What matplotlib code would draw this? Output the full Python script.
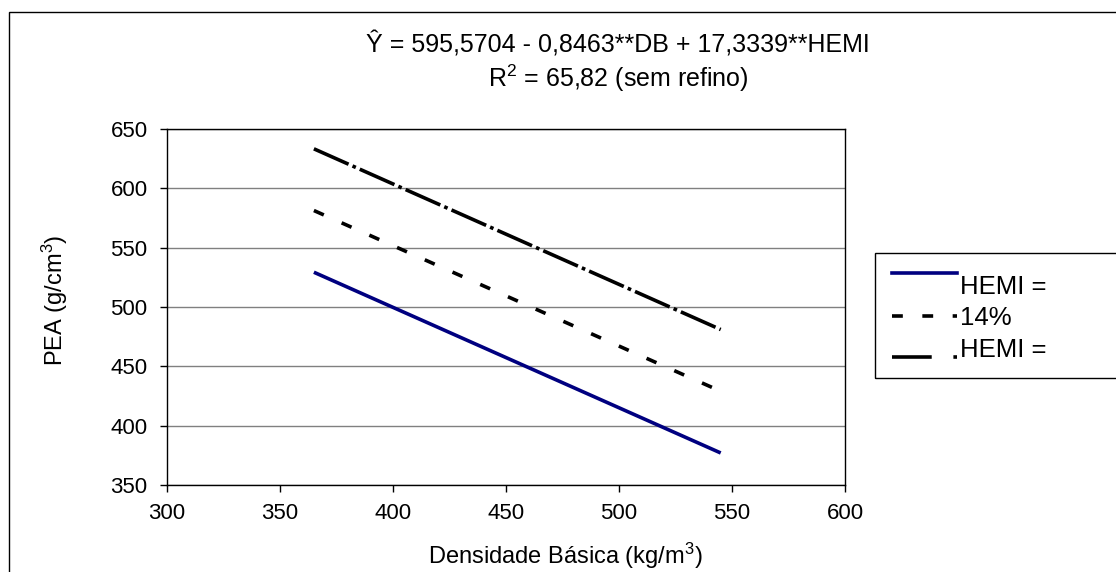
import matplotlib
matplotlib.use("Agg")
import matplotlib.pyplot as plt
from matplotlib.patches import Rectangle
from matplotlib.lines import Line2D

plt.rcParams['font.family'] = ['Liberation Sans', 'DejaVu Sans']
plt.rcParams['mathtext.fontset'] = 'custom'
plt.rcParams['mathtext.rm'] = 'Liberation Sans'
plt.rcParams['mathtext.it'] = 'Liberation Sans'

# data
db = [365, 545]
pea_hemi14 = [529.3, 377.0]
pea_hemi17 = [581.3, 429.0]
pea_hemi20 = [633.3, 481.0]
legend_labels = ["HEMI =", "14%", "HEMI ="]
x_ticks = [300, 350, 400, 450, 500, 550, 600]
y_ticks = [350, 400, 450, 500, 550, 600, 650]

W, H = 1116, 572
fig = plt.figure(figsize=(W / 100, H / 100), dpi=100)

def fx(px):
    return px / W

def fy(py):
    return 1 - py / H

# outer border
fig.patches.append(Rectangle((fx(9), fy(H + 20)), 2, fy(12) - fy(H + 20),
                             transform=fig.transFigure, fill=False,
                             edgecolor='black', linewidth=1.0))

left, right, top, bottom = 167, 845, 129, 485
ax = fig.add_axes([fx(left), fy(bottom), fx(right - left), fy(top) - fy(bottom)])

lw = 2.6
dot_style = (0, (3.0, 5.4))
dash_style = (0, (10.5, 1.2, 1.0, 1.2))
ax.plot(db, pea_hemi14, color='#000080', lw=lw, solid_capstyle='butt')
ax.plot(db, pea_hemi17, color='black', lw=lw, linestyle=dot_style)
ax.plot(db, pea_hemi20, color='black', lw=lw, linestyle=dash_style)

ax.set_xlim(300, 600)
ax.set_ylim(350, 650)
ax.set_xticks(x_ticks)
ax.set_yticks(y_ticks)
ax.tick_params(direction='out', length=5, width=1, labelsize=16, colors='black')
ax.tick_params(axis='y', pad=9)
ax.tick_params(axis='x', pad=8)
ax.yaxis.grid(True, color='#808080', linewidth=1.0)
ax.set_axisbelow(True)
for s in ax.spines.values():
    s.set_color('black')
    s.set_linewidth(1.0)

fig.text(fx(565), fy(556), r"Densidade Básica (kg/m$^\mathregular{3}$)", ha='center', va='center', fontsize=17)
fig.text(fx(55), fy(300), r"PEA (g/cm$^\mathregular{3}$)", ha='center', va='center', fontsize=17, rotation=90)

fig.text(fx(618), fy(45), "Ŷ = 595,5704 - 0,8463**DB + 17,3339**HEMI", ha='center', va='center', fontsize=18)
fig.text(fx(618), fy(78), r"R$^\mathregular{2}$ = 65,82 (sem refino)", ha='center', va='center', fontsize=18)

# legend box
fig.patches.append(Rectangle((fx(875), fy(378)), fx(W + 20 - 875), fy(253) - fy(378),
                             transform=fig.transFigure, fill=False,
                             edgecolor='black', linewidth=1.0))
styles = [dict(color='#000080', lw=lw, linestyle='-'),
          dict(color='black', lw=lw, linestyle=dot_style),
          dict(color='black', lw=lw, linestyle=(0, (11, 6, 2.2, 6)))]
handle_y = [273, 316, 357]
text_y = [287, 318, 350]
for st, hy, ty, lab in zip(styles, handle_y, text_y, legend_labels):
    fig.add_artist(Line2D([fx(892), fx(957)], [fy(hy), fy(hy)], transform=fig.transFigure, **st))
    fig.text(fx(960), fy(ty), lab, ha='left', va='center', fontsize=18.5)

fig.savefig("out.png", dpi=100)
